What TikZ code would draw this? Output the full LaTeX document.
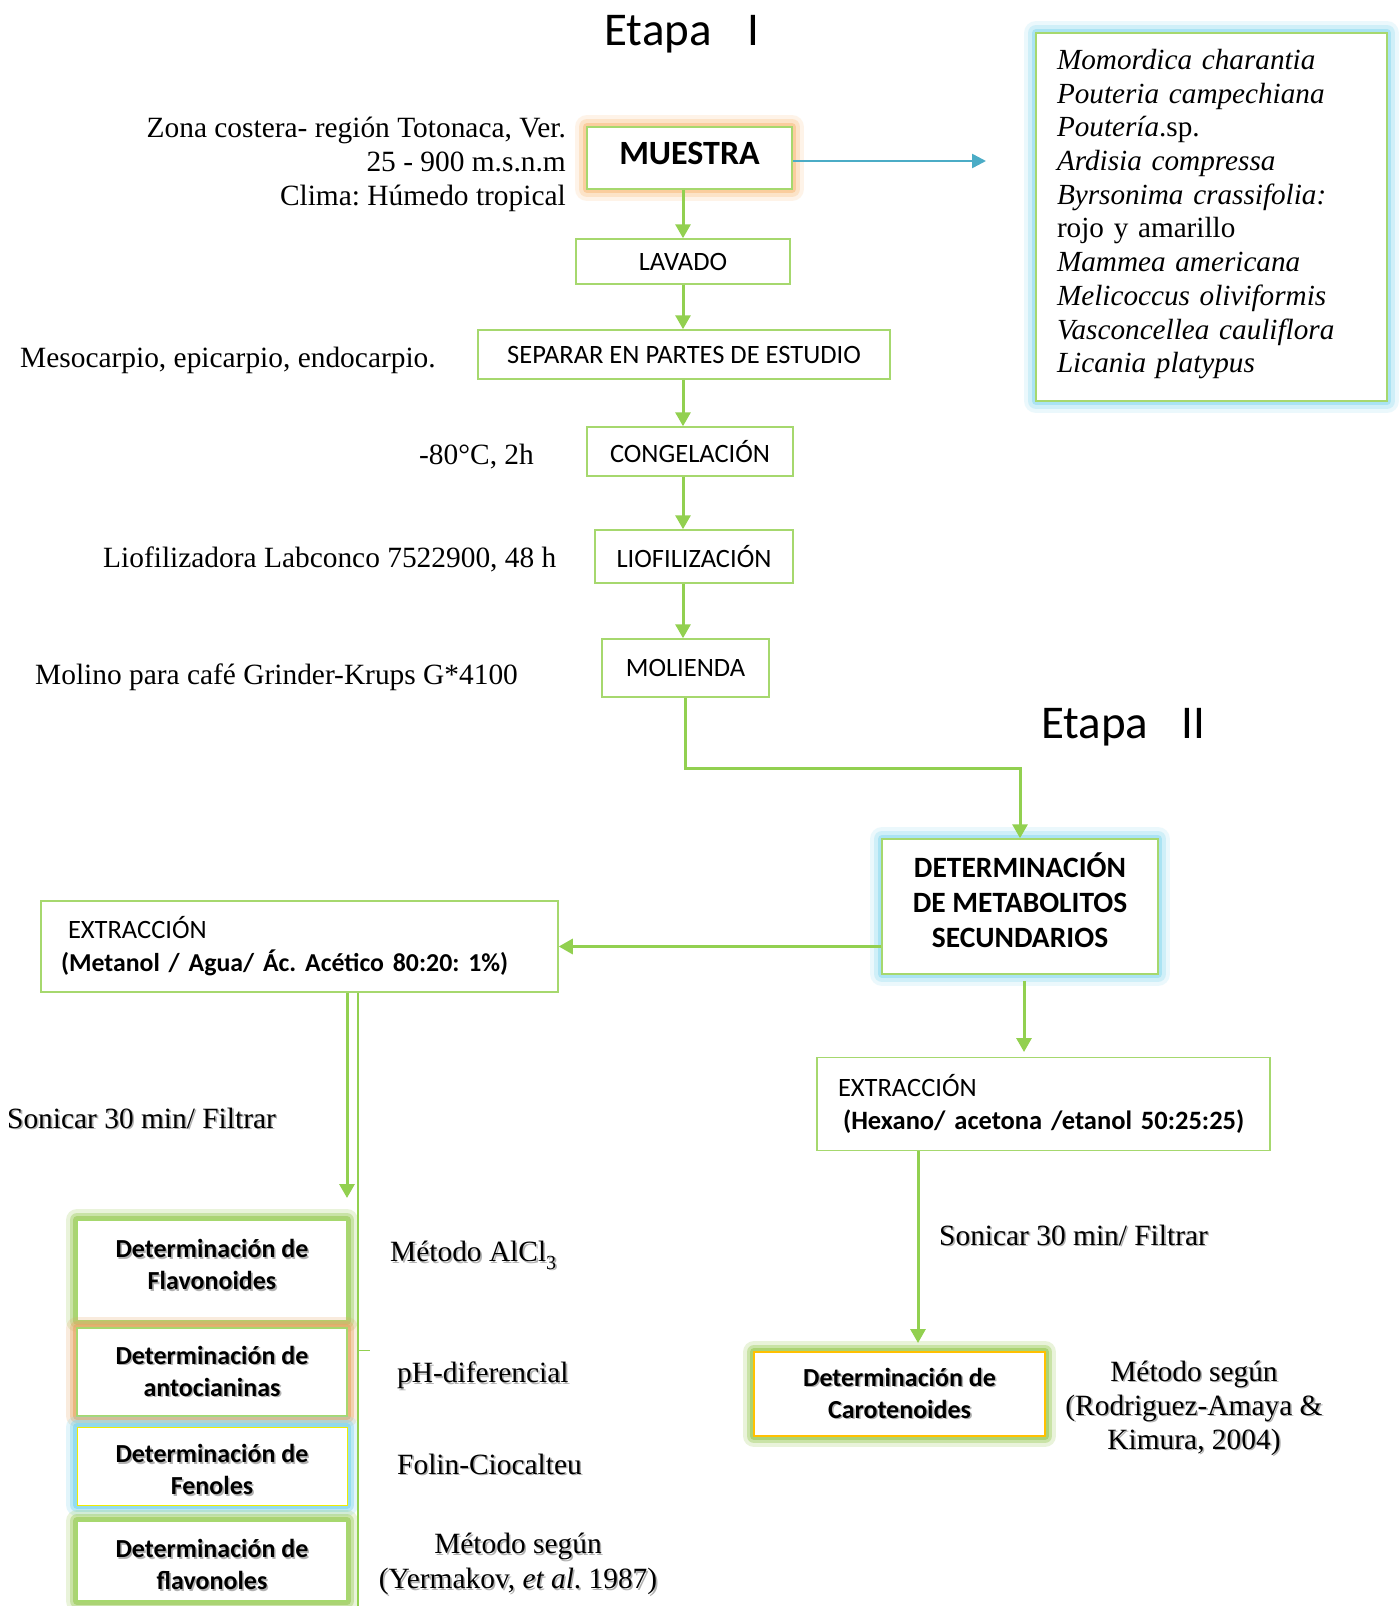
\documentclass[tikz,border=0pt]{standalone}
\usepackage{fontspec}
\setmainfont{Liberation Serif}
\newfontfamily\calf{Carlito}
\usetikzlibrary{arrows.meta}
\frenchspacing
\definecolor{lgreen}{HTML}{92D050}
\definecolor{bgreen}{HTML}{A6D86E}
\definecolor{lblue}{HTML}{4BACC6}
\definecolor{oglow}{HTML}{F9B46B}
\definecolor{bglow}{HTML}{7FD6EE}
\definecolor{gglow}{HTML}{9BCB5A}
\definecolor{tglow}{HTML}{E8A868}
\definecolor{yel}{HTML}{FFC000}
\definecolor{yel2}{HTML}{F0EC00}
\newcommand\sh[1]{\leavevmode\rlap{\kern1.6pt\raisebox{-1.6pt}{\textcolor{black!30}{#1}}}#1}
\newcommand\dn[1]{\rule[-#1pt]{0pt}{#1pt}}
\newcommand\up[1]{\rule{0pt}{#1pt}}
\tikzset{
 glow/.style={preaction={draw=#1,line width=24pt,opacity=0.15,line join=round},
  preaction={draw=#1,line width=16pt,opacity=0.25,line join=round},
  preaction={draw=#1,line width=8pt,opacity=0.45,line join=round}},
 sglow/.style={preaction={draw=#1,line width=22pt,opacity=0.22,line join=round},
  preaction={draw=#1,line width=14pt,opacity=0.4,line join=round},
  preaction={draw=#1,line width=8pt,opacity=0.65,line join=round}},
 box/.style={draw=bgreen,line width=1.5pt,fill=white,inner sep=0pt,align=center,
  font=\calf\fontsize{26.5}{33}\selectfont},
 dbox/.style={box,font=\calf\bfseries\fontsize{26}{32}\selectfont,minimum width=270pt},
 arr/.style={draw=lgreen,line width=3pt,-{Triangle[width=15pt,length=14pt]}},
 barr/.style={draw=lblue,line width=2.5pt,-{Triangle[width=14pt,length=14pt]}},
 serif/.style={font=\fontsize{29.4}{34}\selectfont,inner sep=0pt},
}
\begin{document}
\begin{tikzpicture}[x=1pt,y=-1pt]
\useasboundingbox (0,0) rectangle (1398,1606);
\fill[white] (0,0) rectangle (1398,1606);

% titles
\node[font=\calf\fontsize{47}{56}\selectfont,inner sep=0pt] (t1) at (682,34) {Etapa\hspace{36pt}I};
\node[font=\calf\fontsize{47}{56}\selectfont,inner sep=0pt] (t2) at (1123,727) {Etapa\hspace{33pt}II};

% stage I boxes
\node[box,glow=oglow,minimum width=205pt,minimum height=62pt,
  font=\calf\bfseries\fontsize{34}{40}\selectfont] (mu) at (689.5,158) {\raisebox{9pt}{MUESTRA}};
\node[box,minimum width=214pt,minimum height=45pt] (lav) at (683,261.5) {LAVADO};
\node[box,minimum width=412pt,minimum height=49pt] (sep) at (684,354.5) {SEPARAR EN PARTES DE ESTUDIO};
\node[box,minimum width=206pt,minimum height=49pt] (con) at (690,451.5) {CONGELACIÓN};
\node[box,minimum width=198pt,minimum height=53pt] (lio) at (694,556.5) {LIOFILIZACIÓN};
\node[box,minimum width=167pt,minimum height=58pt] (mol) at (685.5,668) {MOLIENDA};

% species box
\node[draw=bgreen,line width=1.5pt,fill=white,glow=bglow,minimum width=351pt,minimum height=368pt,
  text width=309pt,align=left,inner sep=0pt,font=\fontsize{29.2}{33.7}\selectfont] (sp) at (1211.5,217)
  {\textit{Momordica charantia}\\
   \textit{Pouteria campechiana}\\
   \textit{Pouter\'ia}.sp.\\
   \textit{Ardisia compressa}\\
   \textit{Byrsonima crassifolia:}\\
   rojo y amarillo\\
   \textit{Mammea americana}\\
   \textit{Melicoccus oliviformis}\\
   \textit{Vasconcellea cauliflora}\\
   \textit{Licania platypus}\dn{12}};

% left notes stage I
\node[serif,anchor=east,align=right] (n1) at (566,164) {Zona costera- región Totonaca, Ver.\\25 - 900 m.s.n.m\\Clima: Húmedo tropical};
\node[serif,anchor=west] (n2) at (20,360) {Mesocarpio, epicarpio, endocarpio.};
\node[serif,anchor=west] (n3) at (419,457) {-80°C, 2h};
\node[serif,anchor=west] (n4) at (103,559) {Liofilizadora Labconco 7522900, 48 h};
\node[serif,anchor=west] (n5) at (35,677) {Molino para café Grinder-Krups G*4100};

% stage II boxes
\node[box,glow=bglow,minimum width=276pt,minimum height=135pt,
  font=\calf\bfseries\fontsize{29.5}{35}\selectfont] (det) at (1020,906.5) {DETERMINACIÓN\\DE METABOLITOS\\SECUNDARIOS\dn{12}};
\node[box,minimum width=517pt,minimum height=91pt,text width=477pt,align=left] (ex1) at (299.5,946.5)
  {\hspace{7pt}EXTRACCIÓN\\{\fontsize{25.8}{33}\selectfont\textbf{(Metanol / Agua/ Ác. Acético 80:20: 1\%)}}};
\node[box,minimum width=453pt,minimum height=93pt,text width=411pt,align=left] (ex2) at (1043.5,1104)
  {EXTRACCIÓN\\\hspace{5pt}\textbf{(Hexano/ acetona /etanol 50:25:25)}};
\node[dbox,draw=yel,sglow=gglow,minimum width=291pt,minimum height=84pt] (car) at (899.5,1394)
  {\sh{Determinación de}\\\sh{Carotenoides}};

% left determination boxes
\node[dbox,sglow=gglow,minimum height=101pt] (fla) at (212,1270.5) {\sh{Determinación de}\\\sh{Flavonoides}\dn{12}};
\node[dbox,sglow=tglow,minimum height=88pt] (ant) at (212,1372) {\sh{Determinación de}\\\sh{antocianinas}};
\node[dbox,draw=yel2,line width=1pt,sglow=bglow,minimum height=78pt] (fen) at (212,1466) {\up{27}\sh{Determinación de}\\\sh{Fenoles}};
\node[dbox,sglow=gglow,minimum height=80pt] (fol) at (212,1561) {\up{27}\sh{Determinación de}\\\sh{flavonoles}};

% method notes
\node[serif,anchor=west] (m1) at (390,1256) {\sh{Método AlCl\raisebox{-0.25em}{\fontsize{20}{20}\selectfont 3}}};
\node[serif,anchor=west] (m2) at (397,1376) {\sh{pH-diferencial}};
\node[serif,anchor=west] (m3) at (397,1465) {\sh{Folin-Ciocalteu}};
\node[serif,align=center,font=\fontsize{29.4}{35}\selectfont] (m4) at (518,1565) {\sh{Método según}\\\sh{(Yermakov, \textit{et al}. 1987)}};
\node[serif,align=center] (m5) at (1194,1409) {\sh{Método según}\\\sh{(Rodriguez-Amaya \&}\\\sh{Kimura, 2004)}};
\node[serif,anchor=west] (s1) at (7,1119) {\sh{Sonicar 30 min/ Filtrar}};
\node[serif,anchor=west] (s2) at (939,1236) {\sh{Sonicar 30 min/ Filtrar}};

% coordinates
\coordinate (cx) at (683,0);
\coordinate (bl) at (986,161);
\coordinate (d2) at (1024,1052);
\coordinate (c1) at (918,1343);
\coordinate (l1) at (347,1198);
\coordinate (bot) at (358,1606);
\coordinate (tk) at (370,1350);

% connectors
\draw[arr] (mu.south -| cx) -- (lav.north -| cx);
\draw[arr] (lav.south -| cx) -- (sep.north -| cx);
\draw[arr] (sep.south -| cx) -- (con.north -| cx);
\draw[arr] (con.south -| cx) -- (lio.north -| cx);
\draw[arr] (lio.south -| cx) -- (mol.north -| cx);
\draw[barr] (mu.east |- bl) -- (bl);
\draw[arr] (mol.south) -- ++(0,71) -| (det.north);
\draw[arr] (det.west |- ex1.east) -- (ex1.east);
\draw[arr] (det.south -| d2) ++(0,6) -- (d2);
\draw[arr] (ex2.south -| c1) -- (c1);
\draw[arr] (ex1.south -| l1) -- (l1);
\draw[draw=lgreen,line width=1.5pt] (ex1.south -| bot) -- (bot);
\draw[draw=lgreen,line width=1pt] (tk -| bot) -- (tk);
\end{tikzpicture}
\end{document}
